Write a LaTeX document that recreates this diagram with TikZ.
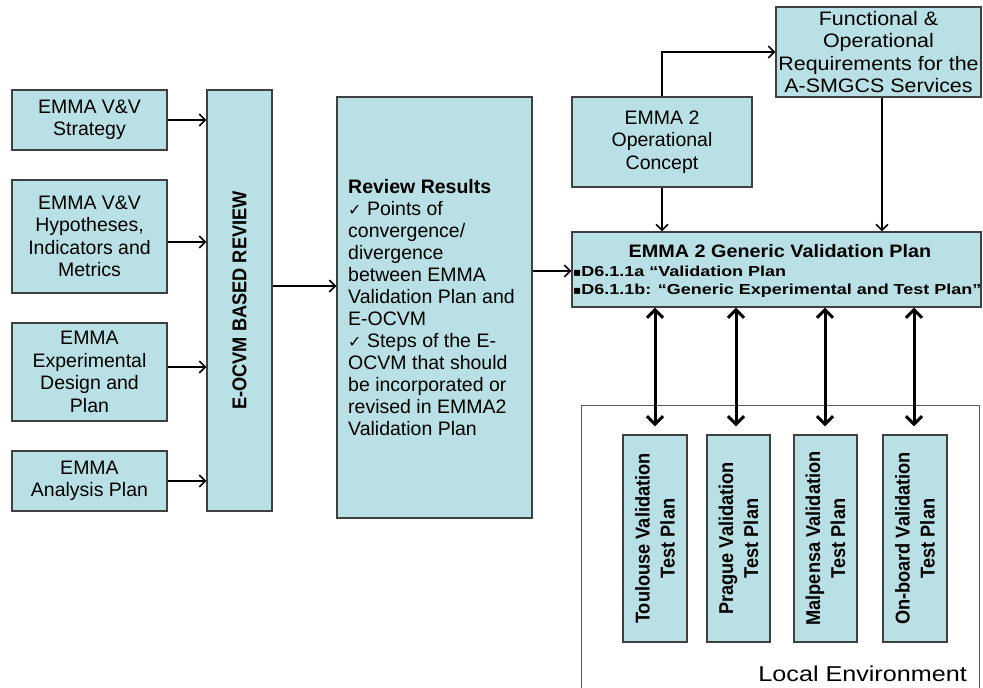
\documentclass[tikz,border=0pt]{standalone}
\usepackage{fontspec}
\setmainfont{Liberation Sans}
\newfontfamily\fW[FakeStretch=1.1]{Liberation Sans}
\newfontfamily\fL[FakeStretch=1.17]{Liberation Sans}
\newfontfamily\fB[FakeStretch=1.24]{Liberation Sans}
\newfontfamily\fR[FakeStretch=0.91]{Liberation Sans}
\newfontfamily\dejavu{DejaVu Sans}
\usetikzlibrary{arrows.meta}
\definecolor{boxfill}{RGB}{185,224,228}
\definecolor{boxline}{RGB}{64,64,64}
\newcommand\chk{{\dejavu\fontsize{16}{22}\selectfont ✓}}
\newcommand\bul{{\dejavu\fontsize{12}{18}\selectfont ▪}}
\begin{document}
\begin{tikzpicture}[x=1pt,y=-1pt,
  box/.style={draw=boxline, fill=boxfill, line width=1.3pt, inner sep=1pt, align=center,
    font=\fontsize{19.5}{22.5}\selectfont},
  vbox/.style={draw=boxline, fill=boxfill, line width=1.3pt, inner sep=0pt},
  vtxt/.style={rotate=90, align=center, font=\fR\bfseries\fontsize{20}{25}\selectfont},
  arr/.style={line width=1.5pt, -{Straight Barb[length=6pt,width=12pt,line width=1.5pt]}},
  darr/.style={line width=3pt, {Straight Barb[length=8pt,width=16pt,line width=3pt]}-{Straight Barb[length=8pt,width=16pt,line width=3pt]}}]
\useasboundingbox[fill=white] (0,0) rectangle (983,688);

% left input boxes
\node[box, minimum width=155pt, minimum height=60pt] (s1) at (89.5,120) {EMMA V\&V\\Strategy};
\node[box, minimum width=155pt, minimum height=113pt] (s2) at (89.5,236.5) {EMMA V\&V\\Hypotheses,\\Indicators and\\Metrics};
\node[box, minimum width=155pt, minimum height=98pt] (s3) at (89.5,372) {EMMA\\Experimental\\Design and\\Plan};
\node[box, minimum width=155pt, minimum height=60pt] (s4) at (89.5,481) {EMMA\\Analysis Plan};

% E-OCVM review
\node[vbox, minimum width=65pt, minimum height=421pt] (eo) at (239.5,300.5) {};
\node[vtxt] (eot) at (eo.center) {E-OCVM BASED REVIEW};

% review results
\node[vbox, minimum width=195pt, minimum height=421pt] (rv) at (434.5,307.5) {};
\node[anchor=west, align=left, inner sep=0pt, font=\fontsize{19.5}{22}\selectfont] (rvt) at (348,308) {%
\textbf{Review Results}\\
\chk{} Points of\\
convergence/\\
divergence\\
between EMMA\\
Validation Plan and\\
E-OCVM\\
\chk{} Steps of the E-\\
OCVM that should\\
be incorporated or\\
revised in EMMA2\\
Validation Plan};

% top right
\node[box, minimum width=180pt, minimum height=90pt] (op) at (662,142) {EMMA 2\\Operational\\Concept};
\node[box, minimum width=205pt, minimum height=90pt, font=\fW\fontsize{19.5}{22.5}\selectfont] (fr) at (878.5,52) {Functional \&\\Operational\\Requirements for the\\A-SMGCS Services};

% generic validation plan
\node[vbox, minimum width=409pt, minimum height=75pt] (gp) at (776.5,269.5) {};
\node[anchor=base, inner sep=0pt, font=\fW\bfseries\fontsize{18}{20}\selectfont] (gpt) at (780,257) {EMMA 2 Generic Validation Plan};
\node[anchor=base west, inner sep=0pt, font=\fB\bfseries\fontsize{14.5}{18}\selectfont] (gb1) at (573,276) {\bul D6.1.1a “Validation Plan};
\node[anchor=base west, inner sep=0pt, font=\fB\bfseries\fontsize{14.5}{18}\selectfont] (gb2) at (573,294) {\bul D6.1.1b: “Generic Experimental and Test Plan”};

% local environment
\coordinate (le1) at (581,688);
\coordinate (le2) at (581,405);
\coordinate (le3) at (979,405);
\coordinate (le4) at (979,688);
\draw[draw=black!65, line width=1pt] (le1) -- (le2) -- (le3) -- (le4);
\node[anchor=base east, inner sep=0pt, font=\fL\fontsize{21.5}{24}\selectfont] (let) at (967,681) {Local Environment};

\node[vbox, minimum width=64pt, minimum height=207pt] (t1) at (655,538.5) {};
\node[vbox, minimum width=63pt, minimum height=207pt] (t2) at (738.5,538.5) {};
\node[vbox, minimum width=63pt, minimum height=207pt] (t3) at (825.5,538.5) {};
\node[vbox, minimum width=64pt, minimum height=207pt] (t4) at (915,538.5) {};
\node[vtxt] at (t1.center) {Toulouse Validation\\Test Plan};
\node[vtxt] at (t2.center) {Prague Validation\\Test Plan};
\node[vtxt] at (t3.center) {Malpensa Validation\\Test Plan};
\node[vtxt] at (t4.center) {On-board Validation\\Test Plan};

% connectors
\draw[arr] (s1.east) -- (s1.east -| eo.west);
\draw[arr] (s2.east |- 0,242) -- (eo.west |- 0,242);
\draw[arr] (s3.east |- 0,367) -- (eo.west |- 0,367);
\draw[arr] (s4.east) -- (s4.east -| eo.west);
\draw[arr] (eo.east |- 0,286) -- (rv.west |- 0,286);
\draw[arr] (rv.east |- 0,271) -- (gp.west |- 0,271);
\draw[arr] (op.north) |- (fr.west);
\draw[arr] (op.south) -- (op.south |- gp.north);
\draw[arr] (fr.south -| 882,0) -- (gp.north -| 882,0);

\draw[darr] (gp.south -| 655,0) -- ([yshift=8pt]t1.north -| 655,0);
\draw[darr] (gp.south -| 736,0) -- ([yshift=8pt]t2.north -| 736,0);
\draw[darr] (gp.south -| 825,0) -- ([yshift=8pt]t3.north -| 825,0);
\draw[darr] (gp.south -| 914,0) -- ([yshift=8pt]t4.north -| 914,0);
\end{tikzpicture}
\end{document}
